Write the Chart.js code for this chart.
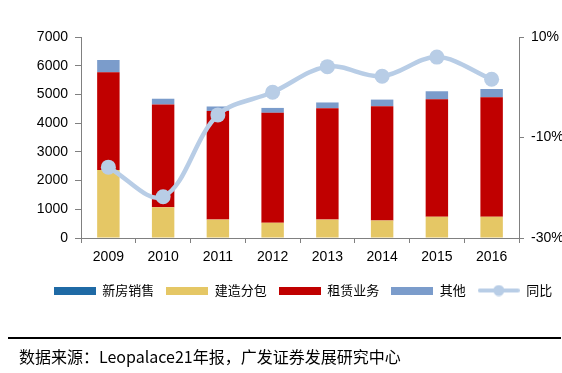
<!DOCTYPE html>
<html><head><meta charset="utf-8">
<script src="https://cdn.jsdelivr.net/npm/chart.js@4.4.1/dist/chart.umd.min.js"></script>
<style>
html,body{margin:0;padding:0;background:#fff;}
#wrap{position:relative;width:562px;height:373px;overflow:hidden;}
#c{position:absolute;left:0;top:0;}
#rule{position:absolute;left:8px;top:337px;width:553px;height:2px;background:#000;}
#src{position:absolute;left:19px;top:344px;font-family:"Noto Sans CJK SC","Liberation Sans",sans-serif;font-size:16px;color:#000;white-space:nowrap;}
</style></head>
<body>
<div id="wrap">
<canvas id="c" width="562" height="373"></canvas>
<div id="rule"></div>
<div id="src">数据来源：Leopalace21年报，广发证券发展研究中心</div>
</div>
<script>
const categories = ['2009','2010','2011','2012','2013','2014','2015','2016'];
const newHomeSales = [0,0,0,0,0,0,0,0];
const construction = [2370,1070,640,530,640,610,740,740];
const leasing = [3400,3580,3780,3830,3880,3980,4090,4160];
const other = [430,200,160,170,200,230,280,290];
const yoy = [-15.9,-21.8,-5.5,-1.0,4.1,2.2,6.0,1.6];
const seriesNames = ['新房销售','建造分包','租赁业务','其他','同比'];
const colors = ['#1F6AA5','#E5C765','#C00000','#7B9CCB','#B8CDE6'];

function boxImg(color){
  const cv=document.createElement('canvas');cv.width=42;cv.height=8;
  const g=cv.getContext('2d');g.fillStyle=color;g.fillRect(0,0,42,8);return cv;
}
function lineImg(color){
  const cv=document.createElement('canvas');cv.width=42;cv.height=12;
  const g=cv.getContext('2d');g.strokeStyle=color;g.lineWidth=4;g.lineCap='round';
  g.beginPath();g.moveTo(2,6);g.lineTo(40,6);g.stroke();
  g.fillStyle=color;g.beginPath();g.arc(21,6,5.5,0,Math.PI*2);g.fill();return cv;
}
const legendImgs=[boxImg(colors[0]),boxImg(colors[1]),boxImg(colors[2]),boxImg(colors[3]),lineImg(colors[4])];

const shiftLegend={id:'shiftLegend',afterLayout(chart){const l=chart.legend;if(l){l.left+=22;l.right+=22;}}};

const barCommon={type:'bar',yAxisID:'y',stack:'s',order:1,barPercentage:0.41,categoryPercentage:1,borderWidth:0};
new Chart(document.getElementById('c'),{
  data:{labels:categories,datasets:[
    {...barCommon,label:seriesNames[0],data:newHomeSales,backgroundColor:colors[0]},
    {...barCommon,label:seriesNames[1],data:construction,backgroundColor:colors[1]},
    {...barCommon,label:seriesNames[2],data:leasing,backgroundColor:colors[2]},
    {...barCommon,label:seriesNames[3],data:other,backgroundColor:colors[3]},
    {type:'line',label:seriesNames[4],data:yoy,yAxisID:'y1',order:0,borderColor:colors[4],backgroundColor:colors[4],
     borderWidth:4.5,pointRadius:7.5,pointBackgroundColor:colors[4],pointBorderWidth:0,tension:0.35,fill:false}
  ]},
  plugins:[shiftLegend],
  options:{
    responsive:false,animation:false,devicePixelRatio:1,events:[],
    layout:{padding:{top:37,bottom:66,left:0,right:0}},
    plugins:{
      tooltip:{enabled:false},
      legend:{position:'bottom',align:'center',
        labels:{usePointStyle:true,pointStyleWidth:42,boxHeight:12,padding:12,color:'#000',
          font:{family:'"Noto Sans CJK SC",sans-serif',size:13},
          generateLabels:(chart)=>chart.data.datasets.map((d,i)=>({text:d.label,pointStyle:legendImgs[i],fillStyle:colors[i],strokeStyle:colors[i],lineWidth:0,hidden:false,datasetIndex:i,fontColor:'#000'}))
        }}
    },
    scales:{
      x:{stacked:true,offset:true,
        grid:{display:true,drawOnChartArea:false,drawTicks:true,tickLength:5,color:'#808080',offset:true},
        border:{display:true,color:'#808080',width:1},
        ticks:{color:'#000',font:{family:'"Liberation Sans",Arial,sans-serif',size:14},padding:6,maxRotation:0},
        afterFit:(s)=>{s.height=34;}
      },
      y:{stacked:true,position:'left',min:0,max:7000,
        grid:{display:true,drawOnChartArea:false,tickLength:6,color:'#808080'},
        border:{display:true,color:'#808080',width:1},
        ticks:{stepSize:1000,color:'#000',padding:7,font:{family:'"Liberation Sans",Arial,sans-serif',size:14},callback:(v)=>String(v)},
        afterFit:(s)=>{s.width=81;}
      },
      y1:{position:'right',min:-30,max:10,
        grid:{display:true,drawOnChartArea:false,tickLength:5,color:'#808080'},
        border:{display:true,color:'#808080',width:1},
        ticks:{stepSize:20,color:'#000',padding:7,font:{family:'"Liberation Sans",Arial,sans-serif',size:14},callback:(v)=>v+'%'},
        afterFit:(s)=>{s.width=43;}
      }
    }
  }
});
</script>
</body></html>
